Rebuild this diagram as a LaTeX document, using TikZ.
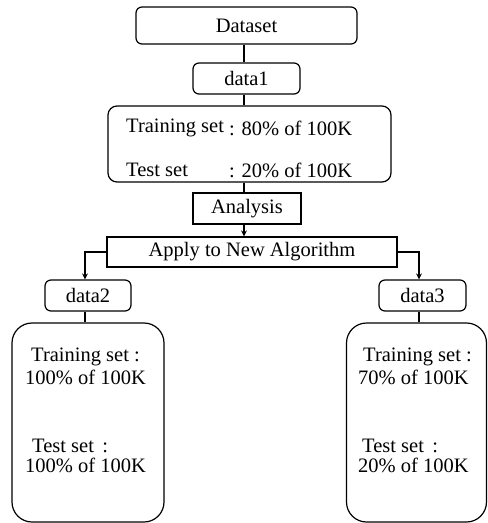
\documentclass[tikz,border=0pt]{standalone}
\usepackage{fontspec}
\setmainfont{Liberation Serif}
\usetikzlibrary{arrows.meta,calc}
\begin{document}
\begin{tikzpicture}[x=1pt,y=-1pt,
  font=\fontsize{20.5}{24}\selectfont,
  box/.style={draw,line width=1.2pt,inner sep=0pt,align=center},
  rbox/.style={box,rounded corners=6pt},
  bigbox/.style={box,rounded corners=#1},
  line/.style={line width=1.2pt},
  arr/.style={line width=1.4pt,-{Stealth[length=6pt,width=6pt]}},
  thickarr/.style={line width=2.2pt,-{Stealth[length=6pt,width=6pt]}},
  txt/.style={anchor=west,inner sep=0pt}]
\useasboundingbox (0,0) rectangle (488,523);

% top chain
\node[rbox,minimum width=221pt,minimum height=37pt] (dataset) at (246.5,25.5) {Dataset};
\node[rbox,minimum width=107pt,minimum height=31pt] (data1) at (246.5,78.5) {data1};
\node[bigbox=9pt,minimum width=283pt,minimum height=76pt] (split1) at (249.5,144) {};
\node[txt] (tr1) at (126,128) {Training set};
\node[txt] (tr1v) at (229,128) {: 80\% of 100K};
\node[txt] (te1) at (126,170) {Test set};
\node[txt] (te1v) at (229,170) {: 20\% of 100K};
\node[box,minimum width=108pt,minimum height=31pt] (analysis) at (247,208.5) {Analysis};
\node[box,minimum width=290pt,minimum height=30pt] (apply) at (252,252) {Apply to New Algorithm};

% left branch
\node[rbox,minimum width=86pt,minimum height=31pt] (data2) at (88,295.5) {data2};
\node[bigbox=20pt,minimum width=152pt,minimum height=199pt] (split2) at (88,422.5) {};
\node[txt] (tr2) at (31,357) {Training set :};
\node[txt] (tr2v) at (25,377) {100\% of 100K};
\node[txt] (te2) at (32,446) {Test set\,\ :};
\node[txt] (te2v) at (25,465) {100\% of 100K};

% right branch
\node[rbox,minimum width=87pt,minimum height=31pt] (data3) at (422.5,295.5) {data3};
\node[bigbox=20pt,minimum width=140pt,minimum height=199pt] (split3) at (416.5,422.5) {};
\node[txt] (tr3) at (363,357) {Training set :};
\node[txt] (tr3v) at (358,377) {70\% of 100K};
\node[txt] (te3) at (362,446) {Test set\,\ :};
\node[txt] (te3v) at (358,465) {20\% of 100K};

% connector columns
\coordinate (spine) at (244,0);
\coordinate (lcol) at (85,0);
\coordinate (rcol) at (419,0);

\draw[line] (dataset.south -| spine) -- (data1.north -| spine);
\draw[line] (data1.south -| spine) -- (split1.north -| spine);
\draw[line] (split1.south -| spine) -- (analysis.north -| spine);
\draw[arr] (analysis.south -| spine) -- (apply.north -| spine);
\draw[thickarr] (apply.west) -| (data2.north -| lcol);
\draw[thickarr] (apply.east) -| (data3.north -| rcol);
\draw[line] (data2.south -| lcol) -- (split2.north -| lcol);
\draw[line] (data3.south -| rcol) -- (split3.north -| rcol);
\end{tikzpicture}
\end{document}
